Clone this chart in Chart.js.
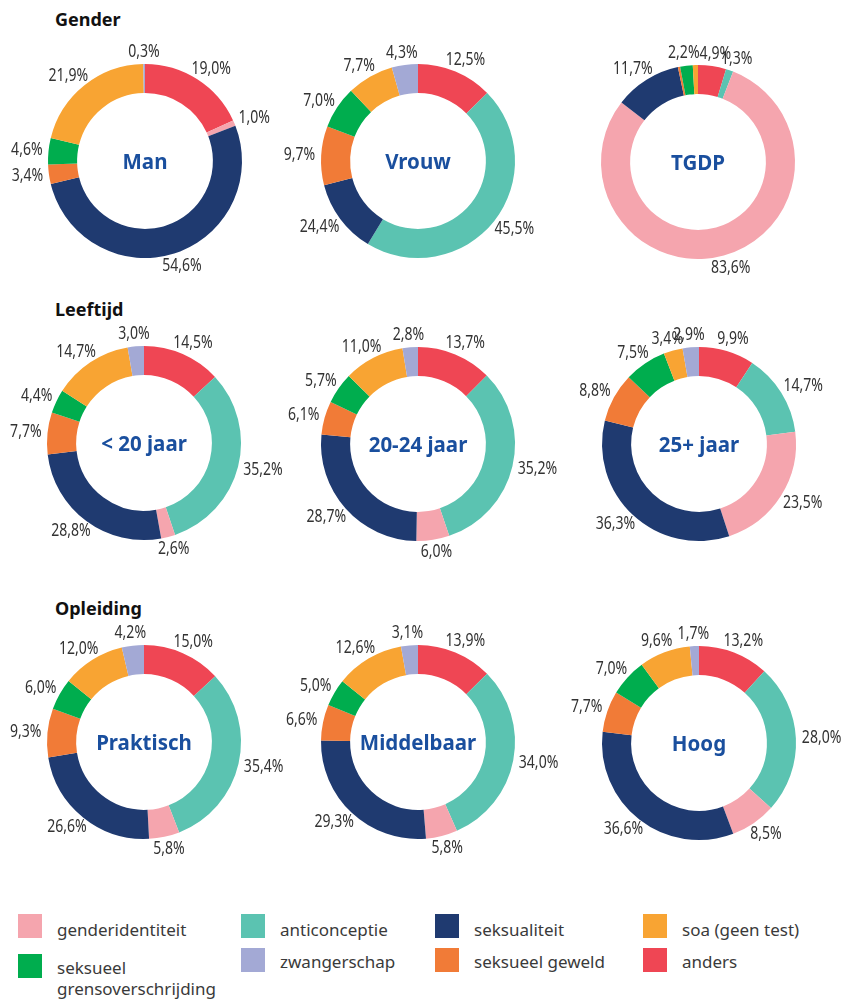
<!DOCTYPE html>
<html>
<head>
<meta charset="utf-8">
<script src="https://cdn.jsdelivr.net/npm/chart.js@4"></script>
<style>
  body { margin: 0; background: #fff; font-family: "Noto Sans", sans-serif; }
  #page { position: relative; width: 853px; height: 1000px; overflow: hidden; }
  .title { position: absolute; left: 55px; font-size: 18px; line-height: 18px; font-weight: bold; color: #111; }
  .pie { position: absolute; width: 300px; height: 300px; }
  .center { position: absolute; width: 300px; height: 300px; display: flex; align-items: center; justify-content: center;
            font-size: 20.5px; font-weight: bold; color: #1a4f9e; pointer-events: none; }
  .sw { position: absolute; width: 24px; height: 24px; }
  .lt { position: absolute; font-size: 17px; line-height: 21px; color: #3a3a3a; }
</style>
</head>
<body>
<div id="page"></div>

<script>
// categories, clockwise from 12 o'clock
var categories = ['anders', 'anticonceptie', 'genderidentiteit', 'seksualiteit',
                  'seksueel geweld', 'seksueel grensoverschrijding', 'soa (geen test)', 'zwangerschap'];
var colors = ['#ef4654', '#5bc3b1', '#f5a5ae', '#1f3a70', '#f17b37', '#00ad4e', '#f8a433', '#a3a9d5'];

// legend order as printed under the charts
var legendOrder = [2, 1, 3, 6, 5, 7, 4, 0];

var manValues        = [19.0, 0,    1.0,  54.6, 3.4, 4.6, 21.9, 0.3];
var vrouwValues      = [12.5, 45.5, 0,    12.2, 9.7, 7.0, 7.7,  4.3];   // seksualiteit slice drawn ~12%, printed 24,4%
var tgdpValues       = [4.9,  1.3,  83.6, 11.7, 0.4, 2.2, 0.9,  0];
var age20Values      = [14.5, 35.2, 2.6,  28.8, 7.7, 4.4, 14.7, 3.0];
var age2024Values    = [13.7, 35.2, 6.0,  28.7, 6.1, 5.7, 11.0, 2.8];
var age25Values      = [9.9,  14.7, 23.5, 36.3, 8.8, 7.5, 3.4,  2.9];
var praktischValues  = [15.0, 35.4, 5.8,  26.6, 9.3, 6.0, 12.0, 4.2];
var middelbaarValues = [13.9, 34.0, 5.8,  29.3, 6.6, 5.0, 12.6, 3.1];
var hoogValues       = [13.2, 28.0, 8.5,  36.6, 7.7, 7.0, 9.6,  1.7];

// printed labels where they differ from the slice (null = no label)
var vrouwLabels = ['12,5%', '45,5%', null, '24,4%', '9,7%', '7,0%', '7,7%', '4,3%'];
var tgdpLabels  = ['4,9%', '1,3%', '83,6%', '11,7%', null, '2,2%', null, null];

var sections = [
  { title: 'Gender', y: 10 },
  { title: 'Leeftijd', y: 300 },
  { title: 'Opleiding', y: 599 }
];

var charts = [
  { name: 'Man',        values: manValues,        cx: 145, cy: 161 },
  { name: 'Vrouw',      values: vrouwValues,      cx: 418, cy: 161, labels: vrouwLabels },
  { name: 'TGDP',       values: tgdpValues,       cx: 698, cy: 162, labels: tgdpLabels },
  { name: '< 20 jaar',  values: age20Values,      cx: 144, cy: 443 },
  { name: '20-24 jaar', values: age2024Values,    cx: 418, cy: 444 },
  { name: '25+ jaar',   values: age25Values,      cx: 699, cy: 444 },
  { name: 'Praktisch',  values: praktischValues,  cx: 144, cy: 742 },
  { name: 'Middelbaar', values: middelbaarValues, cx: 418, cy: 742 },
  { name: 'Hoog',       values: hoogValues,       cx: 699, cy: 743 }
];

function fmt(v){
  return v.toFixed(1).replace('.', ',') + '%';
}

// percentage labels just outside every slice (narrowed, the original uses a condensed face)
var SQUEEZE = 0.78;
var outerLabels = {
  id: 'outerLabels',
  afterDatasetsDraw: function(chart, args, opts){
    var ctx = chart.ctx;
    var meta = chart.getDatasetMeta(0);
    ctx.save();
    ctx.font = '18px "Noto Sans", sans-serif';
    ctx.fillStyle = '#333';
    ctx.textAlign = 'center';
    ctx.textBaseline = 'middle';
    meta.data.forEach(function(arc, i){
      var txt = opts.texts[i];
      if (!txt) return;
      var p = arc.getProps(['x', 'y', 'startAngle', 'endAngle', 'outerRadius'], true);
      var mid = (p.startAngle + p.endAngle) / 2;
      var w = ctx.measureText(txt).width * SQUEEZE;
      var h = 13;
      var r = p.outerRadius + 6;
      var x = p.x + Math.cos(mid) * (r + w / 2);
      var y = p.y + Math.sin(mid) * (r + h / 2);
      ctx.save();
      ctx.translate(x, y);
      ctx.scale(SQUEEZE, 1);
      ctx.fillText(txt, 0, 0);
      ctx.restore();
    });
    ctx.restore();
  }
};

var page = document.getElementById('page');

sections.forEach(function(s){
  var d = document.createElement('div');
  d.className = 'title';
  d.style.top = s.y + 'px';
  d.textContent = s.title;
  page.appendChild(d);
});

charts.forEach(function(c){
  var canvas = document.createElement('canvas');
  canvas.width = 300;
  canvas.height = 300;
  canvas.className = 'pie';
  canvas.style.left = (c.cx - 150) + 'px';
  canvas.style.top = (c.cy - 150) + 'px';
  page.appendChild(canvas);

  var texts = c.labels || c.values.map(function(v){ return v > 0 ? fmt(v) : null; });

  new Chart(canvas.getContext('2d'), {
    type: 'doughnut',
    data: {
      labels: categories,
      datasets: [{
        data: c.values,
        backgroundColor: colors,
        borderWidth: 0
      }]
    },
    options: {
      responsive: false,
      animation: false,
      cutout: '70%',
      layout: { padding: 53 },
      plugins: {
        legend: { display: false },
        tooltip: { enabled: false },
        outerLabels: { texts: texts }
      }
    },
    plugins: [outerLabels]
  });

  var lab = document.createElement('div');
  lab.className = 'center';
  lab.style.left = (c.cx - 150) + 'px';
  lab.style.top = (c.cy - 150) + 'px';
  lab.textContent = c.name;
  page.appendChild(lab);
});

// legend (html)
var legendX = [18, 241, 435, 643];
legendOrder.forEach(function(idx, k){
  var col = k % 4, row = Math.floor(k / 4);
  var sw = document.createElement('div');
  sw.className = 'sw';
  sw.style.background = colors[idx];
  sw.style.left = legendX[col] + 'px';
  var top = row === 0 ? 914 : (col === 0 ? 954 : 948);
  sw.style.top = top + 'px';
  page.appendChild(sw);

  var t = document.createElement('div');
  t.className = 'lt';
  t.style.left = (legendX[col] + 39) + 'px';
  t.style.top = (row === 0 ? 919 : (col === 0 ? 957 : 951)) + 'px';
  t.innerHTML = categories[idx] === 'seksueel grensoverschrijding' ? 'seksueel<br>grensoverschrijding' : categories[idx];
  page.appendChild(t);
});
</script>
</body>
</html>
